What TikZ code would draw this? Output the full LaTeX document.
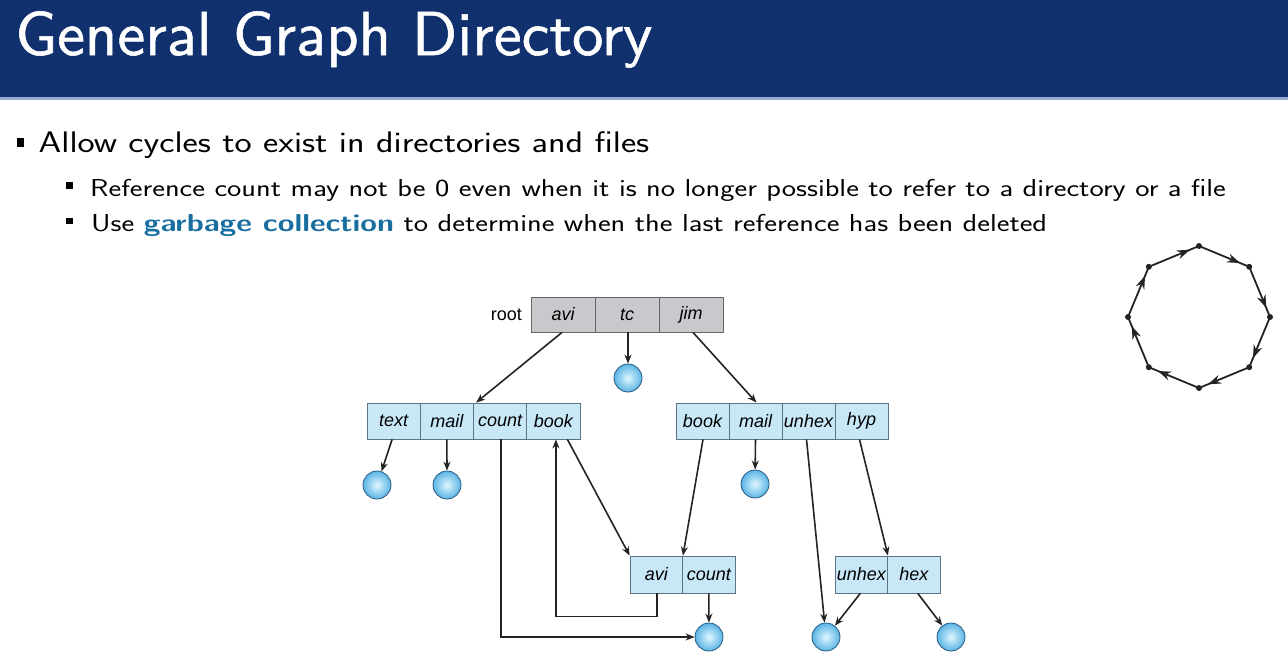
\documentclass[tikz,border=0pt]{standalone}
\usepackage{fontspec}
\usepackage{graphicx}
\newfontfamily\arialf{Liberation Sans}
\newfontface\titlef{lmsans10-regular.otf}[FakeBold=0.9]
\usetikzlibrary{arrows.meta,decorations.markings,calc}
\definecolor{hdrblue}{RGB}{16,48,110}
\definecolor{hdrline}{RGB}{150,170,210}
\definecolor{gcblue}{RGB}{25,110,160}
\definecolor{cellblue}{RGB}{200,232,248}
\definecolor{cellgray}{RGB}{200,200,205}
\definecolor{celledge}{RGB}{95,115,135}
\definecolor{balledge}{RGB}{40,90,130}
\definecolor{ballin}{RGB}{225,247,255}
\definecolor{ballout}{RGB}{90,180,228}
\definecolor{arrcol}{RGB}{35,35,35}
\begin{document}
\begin{tikzpicture}[x=1pt,y=-1pt,
  bcell/.style={draw=celledge,line width=0.8pt,fill=cellblue,minimum height=36pt,inner sep=0pt,font=\arialf\itshape\fontsize{18}{20}\selectfont},
  gcell/.style={draw=gray!80!black,line width=0.8pt,fill=cellgray,minimum height=35pt,minimum width=64pt,inner sep=0pt,font=\arialf\itshape\fontsize{18}{20}\selectfont},
  ball/.style={circle,draw=balledge,line width=0.8pt,minimum size=28pt,inner sep=0pt,inner color=ballin,outer color=ballout},
  arr/.style={draw=arrcol,line width=1.6pt,-{Stealth[length=9pt,width=7pt]}},
  cyc/.style={draw=arrcol,line width=1.8pt,postaction={decorate},decoration={markings,mark=at position 0.82 with {\arrow{Stealth[length=13pt,width=9pt]}}}},
  vdot/.style={circle,fill=arrcol,inner sep=0pt,minimum size=6pt}
]
\useasboundingbox (0,0) rectangle (1288,672);
% header
\fill[hdrblue] (0,0) rectangle (1288,97);
\fill[hdrline] (0,97) rectangle (1288,99.5);
\node[anchor=base west,text=white,inner sep=0pt,font=\titlef\fontsize{62}{64}\selectfont] (title) at (15,55) {\scalebox{1.012}[1]{General Graph Directory}};
% bullets
\fill (17,138) rectangle (23.5,146.5);
\node[anchor=base west,inner sep=0pt,font=\sffamily\fontsize{29.7}{32}\selectfont] (b1) at (38.5,152.5) {\scalebox{1.224}[1]{Allow cycles to exist in directories and files}};
\fill (66,182) rectangle (72.5,188.5);
\node[anchor=base west,inner sep=0pt,font=\sffamily\fontsize{24.5}{27}\selectfont] (b2) at (90,196.5) {\scalebox{1.238}[1]{Reference count may not be 0 even when it is no longer possible to refer to a directory or a file}};
\fill (66,217.5) rectangle (72.5,224);
\node[anchor=base west,inner sep=0pt,font=\sffamily\fontsize{24.5}{27}\selectfont] (b3) at (91,231) {\scalebox{1.238}[1]{Use \textbf{\color{gcblue}garbage collection} to determine when the last reference has been deleted}};
% root
\node[anchor=east,inner sep=0pt,font=\arialf\fontsize{18}{20}\selectfont] (rootlbl) at (522,315) {root};
\node[gcell] (ravi) at (563,314.5) {avi};
\node[gcell] (rtc) at (627,314.5) {tc};
\node[gcell] (rjim) at (691,314.5) {jim};
% left dir
\node[bcell,minimum width=53.25pt] (ltext) at (393.6,421) {text};
\node[bcell,minimum width=53.25pt] (lmail) at (446.9,421) {mail};
\node[bcell,minimum width=53.25pt] (lcount) at (500.1,421) {count};
\node[bcell,minimum width=53.25pt] (lbook) at (553.4,421) {book};
% right dir
\node[bcell,minimum width=53pt] (rbook) at (702.5,421) {book};
\node[bcell,minimum width=53pt] (rmail) at (755.5,421) {mail};
\node[bcell,minimum width=53pt] (runhex) at (808.5,421) {unhex};
\node[bcell,minimum width=53pt] (rhyp) at (861.5,421) {hyp};
% lower boxes
\node[bcell,minimum width=52.5pt,minimum height=37pt] (wavi) at (656.3,574.5) {avi};
\node[bcell,minimum width=52.5pt,minimum height=37pt] (wcount) at (708.8,574.5) {count};
\node[bcell,minimum width=52.5pt,minimum height=37pt] (hunhex) at (861.3,574.5) {unhex};
\node[bcell,minimum width=52.5pt,minimum height=37pt] (hhex) at (913.8,574.5) {hex};
% balls
\node[ball] (ctc) at (628,378) {};
\node[ball] (ctext) at (377,485) {};
\node[ball] (cmail) at (447,485) {};
\node[ball] (crmail) at (755,484) {};
\node[ball] (ccnt) at (709,637) {};
\node[ball] (cunhex) at (826,637) {};
\node[ball] (chex) at (951,637) {};
% connectors
\draw[arr] ([xshift=-1pt]ravi.south) -- ([xshift=3pt]lcount.north west);
\draw[arr] ([xshift=2pt]rjim.south) -- ([xshift=1pt]rmail.north);
\draw[arr] ([xshift=1pt]rtc.south) -- (ctc);
\draw[arr] ([xshift=-1.5pt]ltext.south) -- (ctext);
\draw[arr] (lmail.south) -- (cmail);
\draw[arr] (rmail.south) -- (crmail);
\draw[arr] ([xshift=1pt]lcount.south) |- (ccnt.west);
\draw[arr] ([xshift=0.5pt]wavi.south) -- ++(0,23) -| ([xshift=2.5pt]lbook.south);
\draw[arr] ([xshift=14pt]lbook.south) -- (wavi.north west);
\draw[arr] ([xshift=0.5pt]rbook.south) -- (wavi.north east);
\draw[arr] (wcount.south) -- (ccnt);
\draw[arr] ([xshift=-2pt]runhex.south) -- (cunhex);
\draw[arr] ([xshift=-2pt]rhyp.south) -- (hunhex.north east);
\draw[arr] ([xshift=-1pt]hunhex.south) -- (cunhex);
\draw[arr] ([xshift=4pt]hhex.south) -- (chex);
% cycle octagon
\foreach \i/\a in {1/90,2/45,3/0,4/-45,5/-90,6/-135,7/180,8/135}{
  \node[vdot] (v\i) at ({1199+71*cos(\a)},{317-71*sin(\a)}) {};
}
\foreach \i/\j in {1/2,2/3,3/4,4/5,5/6,6/7,7/8,8/1}{
  \draw[cyc] (v\i.center) -- (v\j.center);
}
\end{tikzpicture}
\end{document}
